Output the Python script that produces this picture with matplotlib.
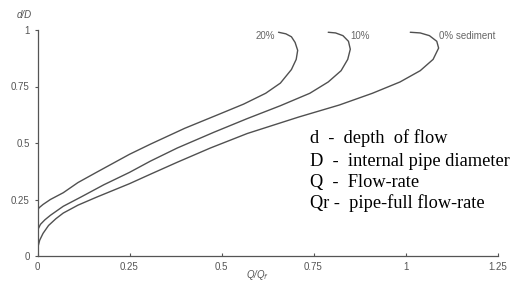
import matplotlib
matplotlib.use("Agg")
import matplotlib.pyplot as plt

# Q/Qf (x) and d/D (y)
q_20 = [0, 0.004, 0.015, 0.035, 0.07, 0.11, 0.16, 0.25, 0.307, 0.40, 0.49, 0.56, 0.62, 0.66, 0.69, 0.703, 0.707, 0.70, 0.69, 0.675, 0.655]
d_20 = [0.20, 0.213, 0.228, 0.25, 0.28, 0.325, 0.37, 0.45, 0.495, 0.565, 0.625, 0.672, 0.72, 0.765, 0.825, 0.87, 0.91, 0.945, 0.97, 0.983, 0.99]

q_10 = [0, 0.002, 0.008, 0.02, 0.035, 0.07, 0.117, 0.18, 0.25, 0.307, 0.38, 0.48, 0.57, 0.66, 0.74, 0.79, 0.825, 0.843, 0.85, 0.845, 0.83, 0.81, 0.79]
d_10 = [0.10, 0.12, 0.14, 0.16, 0.18, 0.22, 0.26, 0.315, 0.37, 0.42, 0.478, 0.548, 0.608, 0.665, 0.72, 0.77, 0.82, 0.87, 0.915, 0.95, 0.975, 0.987, 0.99]

q_0 = [0, 0.0005, 0.002, 0.006, 0.015, 0.03, 0.05, 0.07, 0.11, 0.16, 0.25, 0.307, 0.38, 0.47, 0.57, 0.71, 0.82, 0.91, 0.985, 1.04, 1.075, 1.09, 1.085, 1.065, 1.04, 1.013]
d_0 = [0, 0.02, 0.045, 0.07, 0.10, 0.135, 0.165, 0.19, 0.225, 0.26, 0.32, 0.362, 0.415, 0.478, 0.542, 0.615, 0.668, 0.72, 0.77, 0.82, 0.87, 0.92, 0.95, 0.975, 0.987, 0.99]

x_ticks = [0, 0.25, 0.5, 0.75, 1, 1.25]
x_tick_labels = ["0", "0.25", "0.5", "0.75", "1", "1.25"]
y_ticks = [0, 0.25, 0.5, 0.75, 1]
y_tick_labels = ["0", "0.25", "0.5", "0.75", "1"]

curve_labels = ["20%", "10%", "0% sediment"]
legend_lines = ["d  -  depth  of flow", "D  -  internal pipe diameter",
                "Q  -  Flow-rate", "Qr -  pipe-full flow-rate"]

fig = plt.figure(figsize=(5.12, 2.90), dpi=100)
ax = fig.add_axes([37.5 / 512, 34 / 290, 460 / 512, 226 / 290])

line_color = "#505050"
for q, d in [(q_20, d_20), (q_10, d_10), (q_0, d_0)]:
    ax.plot(q, d, color=line_color, lw=1.0, solid_joinstyle="round", solid_capstyle="round")

ax.set_xlim(0, 1.25)
ax.set_ylim(0, 1)
for s in ["top", "right"]:
    ax.spines[s].set_visible(False)
for s in ["left", "bottom"]:
    ax.spines[s].set_color("#555555")
    ax.spines[s].set_linewidth(0.9)

tick_font = dict(family="Liberation Sans", size=7)
ax.set_xticks(x_ticks)
ax.set_xticklabels(x_tick_labels, **tick_font, color="#555555")
ax.set_yticks(y_ticks)
ax.set_yticklabels(y_tick_labels, **tick_font, color="#555555")
ax.tick_params(axis="x", direction="in", length=2.5, width=0.8, colors="#555555", pad=4)
ax.tick_params(axis="y", direction="out", length=2.5, width=0.8, colors="#555555", pad=3)

gray_txt = dict(family="Liberation Sans", size=7, color="#666666")
ax.text(0.645, 0.973, curve_labels[0], ha="right", va="center", **gray_txt)
ax.text(0.85, 0.973, curve_labels[1], ha="left", va="center", **gray_txt)
ax.text(1.09, 0.973, curve_labels[2], ha="left", va="center", **gray_txt)

fig.text(24 / 512, 1 - 15 / 290, "d/D", ha="center", va="center",
         family="Liberation Sans", style="italic", size=7, color="#555555")
fig.text(258 / 512, 1 - 275 / 290, r"Q/Q$_f$", ha="center", va="center",
         family="Liberation Sans", style="italic", size=7, color="#555555")

ys = [138, 161, 182, 203]
for t, yp in zip(legend_lines, ys):
    fig.text(310 / 512, 1 - yp / 290, t, ha="left", va="center",
             family="Liberation Serif", size=13.2, color="black")

fig.savefig("out.png", dpi=100)
